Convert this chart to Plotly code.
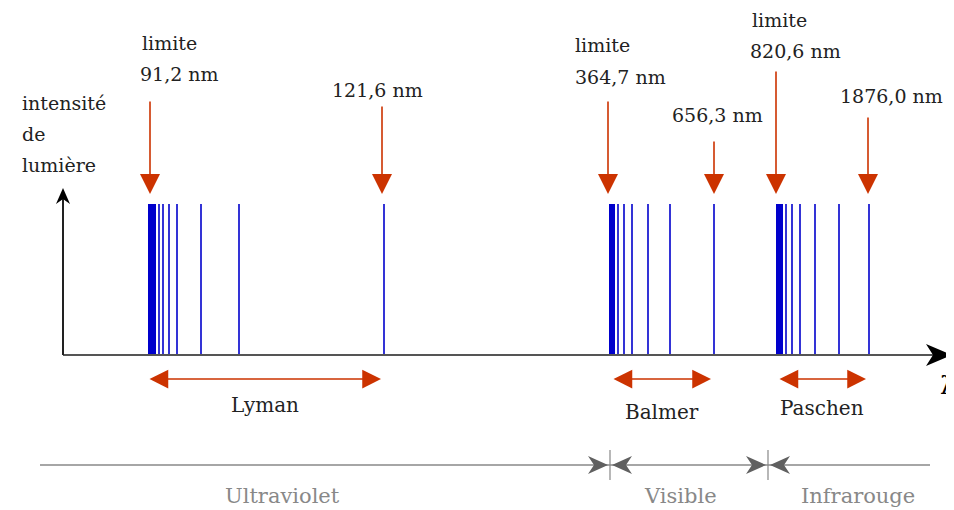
import plotly.graph_objects as go

# schematic positions (diagram units, 0..954 wide, 0..510 tall, y downward)
lyman_block = [148, 156]
lyman_lines = [159, 163, 169, 177, 201, 239, 384]
balmer_block = [609, 615]
balmer_lines = [618, 624, 632, 648, 670, 714]
paschen_block = [776, 783]
paschen_lines = [786, 792, 800, 815, 839, 869]

line_top, baseline = 204, 355

# red marker arrows: (x, tail y)
marker_arrows = [(150, 100), (382, 105), (608, 100), (714, 140), (776, 70), (868, 116)]
# label text lines: (text, left x, centre y)
marker_texts = [
    ("limite", 140, 43), ("91,2 nm", 138, 74),
    ("121,6 nm", 330, 90),
    ("limite", 573, 45), ("364,7 nm", 573, 77),
    ("656,3 nm", 670, 115),
    ("limite", 750, 20), ("820,6 nm", 748, 51),
    ("1876,0 nm", 838, 96),
]
ylabel_texts = [("intensité", 20, 103), ("de", 20, 134), ("lumière", 20, 165)]

series_names = ["Lyman", "Balmer", "Paschen"]
series_ranges = [(148, 381), (612, 711), (778, 866)]
series_label_y = [405, 412, 408]

domain_names = ["Ultraviolet", "Visible", "Infrarouge"]
domain_centers = [282, 680, 858]
domain_bounds = [610, 768]

BLUE = "#0000cc"
RED = "#cc3300"
GRAY = "#888888"
DARK = "#606060"
FONT = "DejaVu Serif"
OFF = 8  # page body margin

fig = go.Figure()

# emission lines
xs, ys = [], []
for lines in (lyman_lines, balmer_lines, paschen_lines):
    for x in lines:
        xs += [x, x, None]
        ys += [line_top, baseline, None]
fig.add_trace(go.Scatter(x=xs, y=ys, mode="lines", line=dict(color=BLUE, width=1.6),
                         hoverinfo="skip", showlegend=False))

shapes = []
for blk in (lyman_block, balmer_block, paschen_block):
    shapes.append(dict(type="rect", x0=blk[0], x1=blk[1], y0=line_top, y1=baseline,
                       fillcolor=BLUE, line=dict(width=0), layer="above"))

# axes
shapes.append(dict(type="line", x0=63, x1=935, y0=baseline, y1=baseline,
                   line=dict(color="#555555", width=2.2)))
shapes.append(dict(type="line", x0=63, x1=63, y0=baseline, y1=198,
                   line=dict(color="#222222", width=2)))
# axis arrowheads
shapes.append(dict(type="path", path="M 926 344 L 952 355 L 926 366 L 933 355 Z",
                   fillcolor="black", line=dict(width=0)))
shapes.append(dict(type="path", path="M 56 204 L 63 188 L 70 204 L 63 199 Z",
                   fillcolor="black", line=dict(width=0)))

# bottom domain line
shapes.append(dict(type="line", x0=40, x1=930, y0=465, y1=465,
                   line=dict(color=GRAY, width=1.5)))
for b in domain_bounds:
    shapes.append(dict(type="line", x0=b, x1=b, y0=450, y1=480,
                       line=dict(color=GRAY, width=1.2)))
    shapes.append(dict(type="path",
                       path=f"M {b-22} 456 L {b-2} 465 L {b-22} 474 L {b-16} 465 Z",
                       fillcolor=DARK, line=dict(width=0)))
    shapes.append(dict(type="path",
                       path=f"M {b+22} 456 L {b+2} 465 L {b+22} 474 L {b+16} 465 Z",
                       fillcolor=DARK, line=dict(width=0)))

annotations = []
for xl, tail in marker_arrows:
    annotations.append(dict(x=xl, y=194, ax=xl, ay=tail, xref="x", yref="y",
                            axref="x", ayref="y", showarrow=True, text="",
                            arrowhead=2, arrowsize=2.5, arrowwidth=1.6, arrowcolor=RED))
for text, tx, ty in marker_texts + ylabel_texts:
    annotations.append(dict(x=tx, y=ty, xref="x", yref="y", text=text, showarrow=False,
                            xanchor="left", yanchor="middle", align="left",
                            font=dict(family=FONT, size=19, color="#222222")))

for name, (a, b), ly in zip(series_names, series_ranges, series_label_y):
    annotations.append(dict(x=b, y=379, ax=a, ay=379, xref="x", yref="y",
                            axref="x", ayref="y", showarrow=True, text="",
                            arrowhead=2, arrowside="end+start", arrowsize=2.5,
                            arrowwidth=1.5, arrowcolor=RED, startarrowhead=2,
                            startarrowsize=2.5))
    annotations.append(dict(x=(a + b) / 2, y=ly, xref="x", yref="y", text=name,
                            showarrow=False, xanchor="center", yanchor="middle",
                            font=dict(family=FONT, size=20, color="#222222")))

for name, cx in zip(domain_names, domain_centers):
    annotations.append(dict(x=cx, y=496, xref="x", yref="y", text=name, showarrow=False,
                            xanchor="center", yanchor="middle",
                            font=dict(family=FONT, size=21, color=GRAY)))

annotations.append(dict(x=938, y=386, xref="x", yref="y", text="λ", showarrow=False,
                        xanchor="left", yanchor="middle",
                        font=dict(family=FONT, size=24, color="black")))

fig.update_layout(
    width=954 - OFF, height=510 - OFF, margin=dict(l=0, r=0, t=0, b=0),
    paper_bgcolor="white", plot_bgcolor="white",
    xaxis=dict(range=[OFF, 954], visible=False, fixedrange=True),
    yaxis=dict(range=[510, OFF], visible=False, fixedrange=True),
    shapes=shapes, annotations=annotations,
)

fig.write_html("out.html")
